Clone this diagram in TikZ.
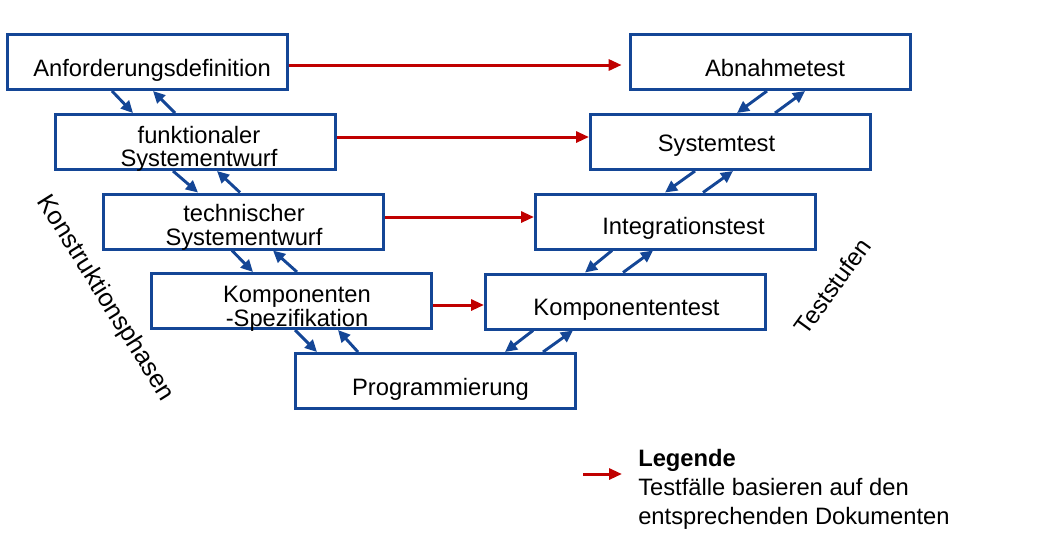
\documentclass[tikz,border=0pt]{standalone}
\usepackage{fontspec}
\setmainfont{Liberation Sans}
\definecolor{vblue}{RGB}{20,70,150}
\definecolor{vred}{RGB}{192,0,0}
\usetikzlibrary{arrows.meta}

\begin{document}
\begin{tikzpicture}[x=0.75pt,y=-0.75pt,
  box/.style={draw=vblue,line width=2.25pt,minimum width=210pt,minimum height=41.25pt,inner sep=0pt},
  lbl/.style={anchor=base,align=center,inner sep=0pt,font=\fontsize{17.8}{17.6}\selectfont},
  flow/.style={-{Triangle[length=9pt,width=8.5pt]},vblue,line width=2.2pt},
  test/.style={-{Triangle[length=9.75pt,width=8.25pt]},vred,line width=2.25pt}]
  \useasboundingbox (0,0) rectangle (1048,537);
  % Konstruktionsphasen
  \node[box] (anf) at (147,62) {};
  \node[box] (funk) at (195,142) {};
  \node[box] (tech) at (243.5,221.5) {};
  \node[box] (komp) at (291.5,301) {};
  \node[box] (prog) at (435,381) {};
  \node[lbl] (anf-t) at (152,76) {Anforderungsdefinition};
  \node[lbl] (funk-t) at (199,166.5) {funktionaler\\Systementwurf};
  \node[lbl] (tech-t) at (244,245) {technischer\\Systementwurf};
  \node[lbl] (komp-t) at (297,326) {Komponenten\\-Spezifikation};
  \node[lbl] (prog-t) at (440.5,395) {Programmierung};
  % Teststufen
  \node[box] (abn) at (770.5,62) {};
  \node[box] (sys) at (730.5,142) {};
  \node[box] (int) at (675.5,221.5) {};
  \node[box] (kt) at (625.5,301.5) {};
  \node[lbl] (abn-t) at (775,76) {Abnahmetest};
  \node[lbl] (sys-t) at (716.5,151.5) {Systemtest};
  \node[lbl] (int-t) at (683.5,234) {Integrationstest};
  \node[lbl] (kt-t) at (626.5,315) {Komponententest};
  \node[rotate=-58,inner sep=0pt,font=\fontsize{19}{19}\selectfont] (konst) at (105,298.5) {Konstruktionsphasen};
  \node[rotate=54,inner sep=0pt,font=\fontsize{18.3}{18}\selectfont] (stufen) at (832.5,286) {Teststufen};
  % links runter und rauf
  \draw[flow] (anf.south -| 112,0) -- (funk.north -| 133,0);
  \draw[flow] (funk.north -| 175,0) -- (anf.south -| 153,0);
  \draw[flow] (funk.south -| 173,0) -- (tech.north -| 198,0);
  \draw[flow] (tech.north -| 240,0) -- (funk.south -| 217,0);
  \draw[flow] (tech.south -| 232,0) -- (komp.north -| 253,0);
  \draw[flow] (komp.north -| 297,0) -- (tech.south -| 273,0);
  \draw[flow] (komp.south -| 295,0) -- (prog.north -| 317,0);
  \draw[flow] (prog.north -| 358,0) -- (komp.south -| 338,0);
  % rechts runter und rauf
  \draw[flow] (abn.south -| 767,0) -- (sys.north -| 737,0);
  \draw[flow] (sys.north -| 775,0) -- (abn.south -| 805,0);
  \draw[flow] (sys.south -| 695,0) -- (int.north -| 665,0);
  \draw[flow] (int.north -| 703,0) -- (sys.south -| 733,0);
  \draw[flow] (int.south -| 612,0) -- (kt.north -| 585,0);
  \draw[flow] (kt.north -| 623,0) -- (int.south -| 653,0);
  \draw[flow] (kt.south -| 533,0) -- (prog.north -| 505,0);
  \draw[flow] (prog.north -| 543,0) -- (kt.south -| 573,0);
  % Testfaelle
  \draw[test,shorten >=5.5pt] (anf.east |- 0,65) -- (abn.west |- 0,65);
  \draw[test] (funk.east |- 0,137) -- (sys.west |- 0,137);
  \draw[test] (tech.east |- 0,217) -- (int.west |- 0,217);
  \draw[test] (komp.east |- 0,305) -- (kt.west |- 0,305);
  % Legende
  \coordinate (leg-a) at (583,474);
  \coordinate (leg-b) at (622,474);
  \draw[test] (leg-a) -- (leg-b);
  \node[anchor=base west,align=left,inner sep=0pt,font=\fontsize{17.8}{21.75}\selectfont] (legende) at (638,524.5) {\textbf{Legende}\\Testfälle basieren auf den\\entsprechenden Dokumenten};
\end{tikzpicture}
\end{document}
